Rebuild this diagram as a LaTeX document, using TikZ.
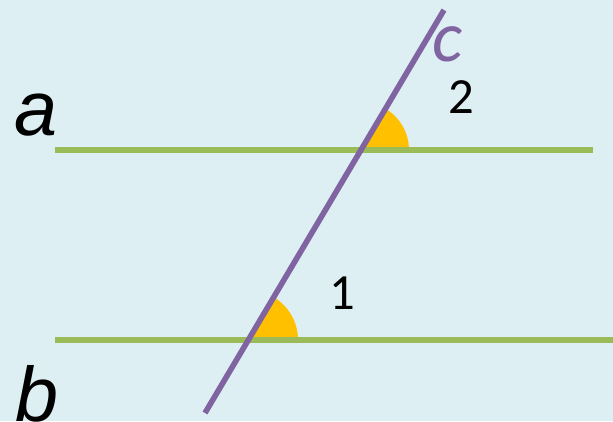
\documentclass[tikz,border=0pt]{standalone}
\usepackage{fontspec}
\usetikzlibrary{calc}
\newfontfamily\labelfont{Liberation Sans}
\newfontfamily\numfont{Carlito}
\definecolor{bgcolor}{HTML}{DDEFF3}
\definecolor{linegreen}{HTML}{9BBB59}
\definecolor{linepurple}{HTML}{8064A2}
\definecolor{anglefill}{HTML}{FFC000}

\begin{document}
\begin{tikzpicture}[x=0.75pt, y=0.75pt]

  % Background
  \fill[bgcolor] (0, 0) rectangle (613, 421);
  \useasboundingbox (0, 0) rectangle (613, 421);

  % Intersection points
  \coordinate (P2) at (361, 271);
  \coordinate (P1) at (248, 81);

  % Angle sectors
  \fill[anglefill] (P2) -- ++(0:48) arc (0:59.3:48) -- cycle;
  \fill[anglefill] (P1) -- ++(0:50) arc (0:59.3:50) -- cycle;

  % Parallel lines a and b
  \draw[linegreen, line width=4.4pt] (55, 271) -- (593, 271);
  \draw[linegreen, line width=4.4pt] (55, 81) -- (613, 81);

  % Transversal c
  \draw[linepurple, line width=4.2pt] (205, 8) -- (444, 411);

  % Labels
  \node[inner sep=0pt, font=\labelfont\itshape\fontsize{58}{60}\selectfont] (la) at (36, 306) {a};
  \node[inner sep=0pt, font=\labelfont\itshape\fontsize{58}{60}\selectfont] (lb) at (37, 27) {b};
  \node[inner sep=0pt, text=linepurple, font=\numfont\itshape\fontsize{54}{56}\selectfont] (lc) at (447, 377) {c};
  \node[inner sep=0pt, font=\numfont\fontsize{38}{40}\selectfont] (l2) at (461, 324) {2};
  \node[inner sep=0pt, font=\numfont\fontsize{38}{40}\selectfont] (l1) at (342, 128) {1};

\end{tikzpicture}
\end{document}
